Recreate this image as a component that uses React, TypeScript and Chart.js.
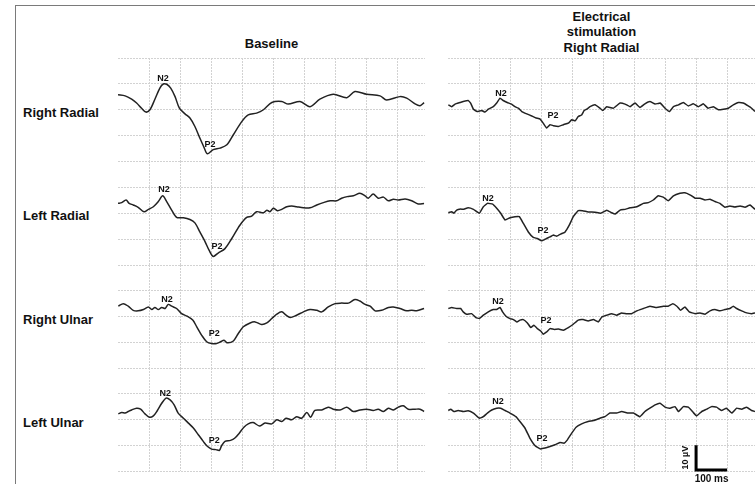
import React, { useEffect, useRef } from "react";
import { Chart, registerables } from "chart.js";

Chart.register(...registerables);

// ---- data (time in ms, amplitude in µV, negative plotted upward) ----
const COLUMN_TITLES = ["Baseline", "Electrical\nstimulation\nRight Radial"];
const ROW_LABELS = ["Right Radial", "Left Radial", "Right Ulnar", "Left Ulnar"];
const X_GRID = [100, 200, 300, 400, 500, 600, 700, 800, 900];
const Y_GRID = [-15, -5, 5, 15, 25];

const RR_BASE: [number, number][] = [
  [0, -0.7], [23, -0.3], [44, 1.0], [60, 2.5], [76, 4.5], [90, 6.0], [103, 5.1], [119, 1.0], [135, -3.3], [146, -4.9],
  [157, -4.8], [170, -3.3], [184, 0.0], [198, 4.5], [216, 6.7], [232, 8.3], [248, 11.6], [264, 16.1], [277, 19.6], [288, 22.2],
  [307, 20.6], [329, 20.0], [351, 18.7], [372, 14.8], [399, 9.7], [420, 7.1], [447, 6.4], [469, 5.1], [496, 2.3], [528, 1.9],
  [549, 2.9], [587, 1.9], [619, 3.9], [651, 1.0], [694, -0.9], [738, 0.4], [764, -2.0], [802, -0.9], [845, -0.3], [866, 1.3],
  [909, 0.0], [931, 0.6], [958, 2.8], [974, 3.5], [987, 2.3],
];
const RR_ES: [number, number][] = [
  [1, 3.2], [12, 3.9], [23, 2.9], [39, 2.3], [49, 1.9], [65, 1.5], [73, 2.5], [82, 4.9], [94, 5.8], [109, 5.4],
  [119, 6.0], [130, 4.9], [146, 3.9], [157, 2.5], [168, 0.6], [178, 1.5], [191, 2.3], [205, 2.9], [216, 3.9], [227, 4.5],
  [238, 5.8], [254, 6.7], [270, 7.5], [284, 8.3], [297, 8.7], [307, 10.3], [318, 12.2], [329, 10.9], [340, 11.3], [356, 11.6],
  [372, 10.9], [388, 10.3], [399, 9.0], [410, 9.4], [420, 7.7], [431, 7.1], [439, 5.4], [447, 4.9], [458, 3.9], [474, 3.2],
  [490, 4.5], [499, 5.4], [512, 3.9], [533, 4.5], [555, 2.5], [571, 2.9], [587, 3.9], [603, 2.5], [619, 4.2], [635, 2.8],
  [651, 1.9], [668, 2.9], [684, 2.5], [700, 4.5], [714, 5.8], [727, 3.9], [743, 3.2], [759, 2.3], [775, 3.6], [791, 2.8],
  [807, 3.9], [823, 2.8], [839, 4.5], [856, 3.9], [872, 5.1], [888, 4.9], [904, 4.5], [920, 3.2], [936, 2.3], [952, 2.5],
  [968, 3.6], [979, 4.5], [990, 5.8],
];
const LR_BASE: [number, number][] = [
  [0, 1.3], [12, 1.0], [26, 0.0], [36, 1.3], [49, 1.9], [65, 2.8], [84, 4.5], [98, 3.6], [114, 2.6], [130, 0.6],
  [144, -1.6], [157, 0.6], [173, 3.9], [189, 6.7], [211, 6.8], [232, 7.5], [248, 8.8], [264, 12.3], [281, 16.1], [294, 19.4],
  [307, 21.7], [323, 20.4], [345, 18.7], [367, 14.8], [393, 9.7], [415, 6.7], [431, 6.2], [447, 4.5], [469, 4.9], [480, 3.9],
  [490, 4.5], [501, 3.2], [514, 4.1], [528, 3.6], [544, 2.6], [560, 2.3], [576, 2.6], [598, 3.0], [619, 3.0], [641, 1.9],
  [662, 1.0], [684, 0.3], [705, 0.3], [721, -0.7], [739, -1.3], [759, -1.6], [780, -2.6], [797, -1.6], [807, -0.7], [823, -2.3],
  [839, -0.7], [856, -1.1], [872, 0.3], [888, -0.3], [904, 0.0], [926, -0.4], [947, 0.3], [968, 1.5], [987, 1.3],
];
const LR_ES: [number, number][] = [
  [1, 4.9], [12, 4.5], [19, 5.1], [28, 3.9], [41, 3.5], [49, 3.6], [65, 3.0], [82, 3.6], [101, 5.1], [114, 2.6],
  [127, 1.3], [144, 1.6], [157, 3.2], [170, 5.1], [184, 7.7], [200, 6.8], [216, 6.4], [230, 6.4], [243, 9.0], [259, 12.3],
  [275, 14.4], [288, 14.8], [302, 15.7], [318, 14.8], [329, 14.2], [340, 13.5], [351, 13.9], [367, 12.9], [377, 12.4], [391, 9.7],
  [404, 6.4], [420, 4.1], [434, 4.1], [452, 4.6], [474, 4.7], [492, 5.1], [512, 3.9], [528, 4.9], [539, 5.4], [555, 3.9],
  [571, 3.6], [587, 3.0], [609, 2.6], [630, 1.3], [646, 1.0], [662, 0.0], [678, -1.6], [694, -1.1], [710, 0.3], [727, -1.6],
  [748, -2.6], [764, -2.8], [780, -2.0], [797, -0.7], [813, -0.7], [829, 0.0], [845, -0.3], [861, 0.6], [877, 1.3], [893, 2.8],
  [909, 2.3], [925, 2.7], [942, 2.3], [958, 2.8], [974, 1.9], [990, 3.6],
];
const RU_BASE: [number, number][] = [
  [1, 1.0], [17, 0.0], [33, 1.0], [49, 2.6], [65, 2.8], [82, 2.3], [98, 1.3], [109, 2.3], [119, 1.5], [130, 2.3],
  [141, 1.5], [152, 1.9], [162, 0.3], [173, 1.0], [189, 1.9], [205, 3.9], [223, 4.9], [241, 6.4], [254, 9.0], [270, 12.3],
  [286, 14.8], [302, 15.5], [318, 15.5], [331, 14.8], [342, 14.2], [352, 15.2], [372, 14.5], [388, 11.6], [404, 9.0], [426, 7.5],
  [442, 7.1], [463, 8.1], [480, 7.5], [496, 5.8], [512, 4.1], [528, 3.2], [542, 4.5], [555, 5.4], [576, 4.5], [598, 3.2],
  [619, 2.3], [641, 2.6], [657, 3.2], [678, 1.3], [700, 0.0], [721, -0.2], [743, -0.2], [764, -1.6], [780, -1.0], [797, 0.3],
  [813, 1.0], [829, 2.8], [850, 2.6], [872, 1.5], [888, 1.3], [909, 1.9], [931, 2.8], [947, 2.6], [963, 2.8], [987, 1.9],
];
const RU_ES: [number, number][] = [
  [1, 1.9], [12, 1.5], [28, 1.9], [41, 1.9], [49, 3.2], [60, 4.1], [76, 3.9], [90, 5.4], [101, 5.8], [114, 4.5],
  [130, 3.2], [146, 2.3], [157, 2.3], [168, 1.5], [176, 3.2], [187, 4.9], [200, 5.8], [211, 6.2], [222, 7.1], [232, 6.4],
  [243, 6.2], [256, 7.5], [267, 9.3], [277, 8.4], [288, 9.7], [299, 10.6], [307, 11.9], [318, 11.0], [329, 9.7], [342, 10.0],
  [356, 9.9], [372, 10.3], [388, 9.3], [404, 8.0], [420, 6.4], [436, 6.2], [452, 6.7], [469, 6.2], [485, 7.1], [496, 5.2],
  [512, 4.5], [528, 3.9], [544, 4.5], [560, 3.6], [576, 3.9], [592, 3.9], [609, 2.8], [630, 1.9], [651, 1.0], [673, 1.5],
  [694, 1.0], [710, 1.0], [725, 0.0], [738, 1.0], [750, 2.6], [764, 1.3], [778, 3.2], [797, 3.9], [813, 3.6], [829, 4.1],
  [845, 2.8], [861, 2.3], [877, 2.8], [893, 2.3], [909, 1.9], [920, 1.0], [931, 1.9], [947, 2.8], [963, 3.6], [979, 3.9],
  [990, 3.6],
];
const LU_BASE: [number, number][] = [
  [1, 2.8], [12, 2.3], [23, 2.5], [33, 1.9], [44, 1.3], [60, 0.6], [73, 1.0], [87, 2.8], [101, 4.1], [114, 3.6],
  [127, 1.5], [141, -1.3], [155, -3.3], [168, -2.6], [181, -0.7], [194, 2.5], [211, 4.5], [227, 6.4], [243, 8.3], [259, 10.9],
  [275, 13.5], [288, 15.4], [302, 16.5], [316, 16.7], [327, 17.0], [334, 15.2], [345, 13.5], [363, 13.1], [377, 12.2], [391, 10.3],
  [406, 8.0], [420, 6.7], [436, 6.2], [456, 7.5], [474, 6.4], [496, 6.7], [512, 5.1], [528, 5.8], [542, 4.5], [560, 5.1],
  [576, 3.9], [592, 4.5], [609, 2.3], [621, 4.1], [635, 1.5], [657, 1.3], [678, 0.2], [694, 1.0], [716, 1.3], [738, 0.2],
  [759, 1.9], [780, 1.3], [802, 1.0], [823, 1.5], [839, 1.0], [856, 1.9], [872, 0.6], [888, 1.3], [904, 0.2], [920, -0.3],
  [936, 1.0], [958, 1.0], [974, 1.0], [987, 1.9],
];
const LU_ES: [number, number][] = [
  [1, 1.5], [9, 1.0], [19, 1.9], [33, 1.5], [49, 1.9], [65, 1.6], [82, 2.5], [101, 4.5], [114, 3.9], [127, 2.5],
  [141, 1.3], [157, 0.6], [170, 0.6], [184, 1.5], [200, 2.5], [219, 3.9], [232, 5.8], [248, 8.3], [264, 12.2], [281, 15.2],
  [297, 16.4], [313, 16.1], [329, 15.5], [345, 14.8], [361, 13.9], [374, 14.2], [385, 12.9], [399, 10.3], [413, 8.0], [431, 6.7],
  [452, 5.8], [469, 5.4], [490, 4.5], [506, 3.9], [522, 2.5], [544, 2.5], [560, 1.9], [581, 2.5], [598, 2.5], [619, 3.9],
  [635, 1.9], [651, 0.6], [668, -0.7], [684, -1.3], [700, 0.2], [716, 0.6], [732, 0.0], [743, 1.9], [759, 0.0], [775, 0.2],
  [791, 2.3], [802, 3.6], [818, 1.9], [834, 1.0], [850, 0.0], [866, 0.2], [882, 1.5], [898, 0.6], [915, 2.5], [931, 0.6],
  [947, 1.0], [963, 0.2], [979, 1.5], [990, 1.9],
];

// peak label anchors: [ms, µV] for N2 and P2
const PEAKS_RR_BASE: [number, number][] = [[145, -6.1], [297, 19.5]];
const PEAKS_RR_ES: [number, number][] = [[171, -0.3], [339, 8.2]];
const PEAKS_LR_BASE: [number, number][] = [[148, -3.1], [319, 19.0]];
const PEAKS_LR_ES: [number, number][] = [[129, 0.4], [306, 12.8]];
const PEAKS_RU_BASE: [number, number][] = [[158, -0.5], [310, 12.6]];
const PEAKS_RU_ES: [number, number][] = [[161, 0.3], [316, 7.6]];
const PEAKS_LU_BASE: [number, number][] = [[152, -4.2], [310, 14.0]];
const PEAKS_LU_ES: [number, number][] = [[161, -1.1], [303, 13.3]];
const PEAK_NAMES = ["N2", "P2"];

// scale bar: 100 ms x 10 µV
const SCALE_BAR_MS = [800, 900];
const SCALE_BAR_UV = [15, 25];

// ---- layout ----
const FONT = '"Liberation Sans", Arial, Helvetica, sans-serif';
const PANEL_LEFT = [118, 448];
const PANEL_W = 307;
const ROW_TOP = [58, 161, 265, 368];
const ROW_H = [103, 104, 103, 103];
const GRID_COLOR = "#d2d2d2";
const TRACE_COLOR = "#222222";

const TRACES = [
  [RR_BASE, RR_ES],
  [LR_BASE, LR_ES],
  [RU_BASE, RU_ES],
  [LU_BASE, LU_ES],
];
const PEAKS = [
  [PEAKS_RR_BASE, PEAKS_RR_ES],
  [PEAKS_LR_BASE, PEAKS_LR_ES],
  [PEAKS_RU_BASE, PEAKS_RU_ES],
  [PEAKS_LU_BASE, PEAKS_LU_ES],
];

type TraceProps = {
  left: number;
  top: number;
  areaH: number;
  padBottom: number;
  series: [number, number][];
  peaks: [number, number][];
  lastRow: boolean;
  scaleBar: boolean;
  tension: number;
};

function TraceChart(p: TraceProps) {
  const ref = useRef<HTMLCanvasElement | null>(null);
  const canvasH = p.areaH + p.padBottom;
  useEffect(() => {
    const canvas = ref.current;
    if (!canvas) return;
    const overlay = {
      id: "overlay",
      afterDatasetsDraw(chart: any) {
        const ctx = chart.ctx as CanvasRenderingContext2D;
        const xs = chart.scales.x;
        const ys = chart.scales.y;
        ctx.save();
        ctx.fillStyle = "#111";
        ctx.font = `bold 9px ${FONT}`;
        ctx.textAlign = "center";
        ctx.textBaseline = "alphabetic";
        p.peaks.forEach((pk, i) => {
          ctx.fillText(PEAK_NAMES[i], xs.getPixelForValue(pk[0]), ys.getPixelForValue(pk[1]));
        });
        if (p.scaleBar) {
          const x1 = xs.getPixelForValue(SCALE_BAR_MS[0]);
          const x2 = xs.getPixelForValue(SCALE_BAR_MS[1]);
          const y1 = ys.getPixelForValue(SCALE_BAR_UV[0]);
          const y2 = ys.getPixelForValue(SCALE_BAR_UV[1]) - 1;
          ctx.strokeStyle = "#000";
          ctx.lineWidth = 3;
          ctx.lineCap = "butt";
          ctx.lineJoin = "miter";
          ctx.beginPath();
          ctx.moveTo(x1, y1);
          ctx.lineTo(x1, y2);
          ctx.lineTo(x2, y2);
          ctx.stroke();
          ctx.font = `bold 10px ${FONT}`;
          ctx.textAlign = "center";
          ctx.textBaseline = "alphabetic";
          ctx.fillText("100 ms", (x1 + x2) / 2, y2 + 12);
          ctx.save();
          ctx.translate(x1 - 11, (y1 + y2) / 2);
          ctx.rotate(-Math.PI / 2);
          ctx.font = `bold 9px ${FONT}`;
          ctx.textBaseline = "middle";
          ctx.fillText("10 µV", 0, 0);
          ctx.restore();
        }
        ctx.restore();
      },
    };
    const chart = new Chart(canvas, {
      type: "line",
      data: {
        datasets: [
          {
            data: p.series.map(([x, y]) => ({ x, y })),
            borderColor: TRACE_COLOR,
            borderWidth: 1.5,
            pointRadius: 0,
            tension: p.tension,
            fill: false,
          },
        ],
      },
      options: {
        animation: false,
        responsive: false,
        events: [],
        layout: { padding: { top: 0, left: 0, right: 0, bottom: p.padBottom }, autoPadding: false },
        plugins: { legend: { display: false }, tooltip: { enabled: false }, title: { display: false } },
        scales: {
          x: {
            type: "linear",
            min: 0,
            max: 990,
            afterBuildTicks: (s: any) => {
              s.ticks = X_GRID.map((v) => ({ value: v }));
            },
            ticks: { display: false },
            grid: { color: GRID_COLOR, drawTicks: false, lineWidth: 1 },
            border: { display: false, dash: [2, 1] },
          },
          y: {
            type: "linear",
            reverse: true,
            min: Y_GRID[0],
            max: Y_GRID[Y_GRID.length - 1],
            afterBuildTicks: (s: any) => {
              s.ticks = Y_GRID.map((v) => ({ value: v }));
            },
            ticks: { display: false },
            grid: {
              color: (c: any) =>
                c.tick && c.tick.value === Y_GRID[Y_GRID.length - 1] && !p.lastRow ? "rgba(0,0,0,0)" : GRID_COLOR,
              drawTicks: false,
              lineWidth: 1,
            },
            border: { display: false, dash: [2, 1] },
          },
        },
      },
      plugins: [overlay],
    } as any);
    return () => chart.destroy();
  }, []);
  return (
    <canvas
      ref={ref}
      width={PANEL_W}
      height={canvasH}
      style={{ position: "absolute", left: p.left, top: p.top, width: PANEL_W, height: canvasH, display: "block" }}
    />
  );
}

export default function App() {
  const textBase: React.CSSProperties = {
    position: "absolute",
    fontFamily: FONT,
    fontWeight: "bold",
    fontSize: 13,
    color: "#111",
    whiteSpace: "pre",
  };
  return (
    <div
      style={{
        position: "fixed",
        left: 0,
        top: 0,
        width: 755,
        height: 484,
        overflow: "hidden",
        background: "#fff",
      }}
    >
      <div
        style={{
          position: "absolute",
          left: 15,
          top: 5,
          width: 760,
          height: 500,
          borderTop: "1px solid #7a7a7a",
          borderLeft: "1px solid #7a7a7a",
        }}
      />
      <div style={{ ...textBase, left: PANEL_LEFT[0], top: 37, width: PANEL_W, textAlign: "center", lineHeight: "13px" }}>
        {COLUMN_TITLES[0]}
      </div>
      <div style={{ ...textBase, left: PANEL_LEFT[1], top: 9, width: PANEL_W, textAlign: "center", lineHeight: "15.3px" }}>
        {COLUMN_TITLES[1]}
      </div>
      {ROW_LABELS.map((lab, i) => (
        <div key={lab} style={{ ...textBase, left: 23, top: 106 + Math.round(i * 103.3), lineHeight: "13px" }}>
          {lab}
        </div>
      ))}
      {TRACES.map((pair, r) =>
        pair.map((series, c) => {
          const last = r === 3;
          const pad = last ? (c === 1 ? 13 : 1) : 0;
          return (
            <TraceChart
              key={`${r}-${c}`}
              left={PANEL_LEFT[c]}
              top={ROW_TOP[r]}
              areaH={ROW_H[r]}
              padBottom={pad}
              series={series}
              peaks={PEAKS[r][c]}
              lastRow={last}
              scaleBar={last && c === 1}
              tension={c === 0 ? 0.3 : 0.1}
            />
          );
        })
      )}
    </div>
  );
}
